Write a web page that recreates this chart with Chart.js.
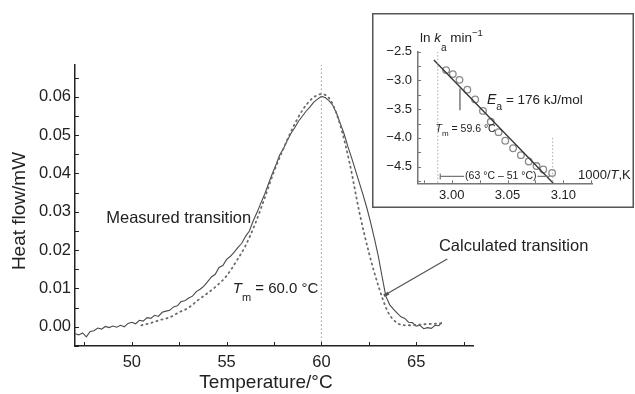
<!DOCTYPE html>
<html>
<head>
<meta charset="utf-8">
<script src="https://cdn.jsdelivr.net/npm/chart.js@4.4.1/dist/chart.umd.min.js"></script>
<style>
html, body { margin: 0; padding: 0; background: #fff; }
#wrap { position: relative; width: 635px; height: 394px; overflow: hidden; }
#main { position: absolute; left: 0; top: 0; }
#inset { position: absolute; left: 372px; top: 13px; background: #fff; }
</style>
</head>
<body>
<div id="wrap">
    <canvas id="main" width="635" height="394"></canvas>
    <canvas id="inset" width="262" height="195"></canvas>
</div>
<script>
const FONT = '"Liberation Sans", Arial, Helvetica, sans-serif';

// DSC trace, measured (noisy) - °C / mW
const measuredT = [47.0, 47.2, 47.4, 47.6, 47.8, 48.0, 48.2, 48.4, 48.6, 48.8, 49.0, 49.2, 49.4, 49.6, 49.8,
    50.0, 50.2, 50.4, 50.6, 50.8, 51.0, 51.2, 51.4, 51.6, 51.8, 52.0, 52.2, 52.4, 52.6, 52.8,
    53.0, 53.2, 53.4, 53.6, 53.8, 54.0, 54.2, 54.4, 54.6, 54.8, 55.0, 55.2, 55.4, 55.6, 55.8,
    56.0, 56.2, 56.4, 56.6, 56.8, 57.0, 57.2, 57.4, 57.6, 57.8, 58.0, 58.2, 58.4, 58.6, 58.8,
    59.0, 59.2, 59.4, 59.6, 59.8, 60.0, 60.2, 60.4, 60.6, 60.8, 61.0, 61.2, 61.4, 61.6, 61.8,
    62.0, 62.2, 62.4, 62.6, 62.8, 63.0, 63.2, 63.4, 63.6, 63.8, 64.0, 64.2, 64.4, 64.6, 64.8,
    65.0, 65.2, 65.4, 65.6, 65.8, 66.0, 66.2, 66.35];
const measuredH = [-0.0018, -0.0021, -0.0016, -0.0026, -0.0012, -0.0010, -0.0003, -0.0006, 0.0001, -0.0002,
    0.0002, -0.0001, 0.0004, 0.0000, 0.0009, 0.0012, 0.0008, 0.0017, 0.0015, 0.0024,
    0.0022, 0.0030, 0.0027, 0.0038, 0.0041, 0.0043, 0.0052, 0.0055, 0.0066, 0.0068,
    0.0075, 0.0080, 0.0092, 0.0098, 0.0106, 0.0118, 0.0130, 0.0137, 0.0155, 0.0160,
    0.0176, 0.0184, 0.0195, 0.0207, 0.0218, 0.0236, 0.0250, 0.0276, 0.0298, 0.0322,
    0.0345, 0.0372, 0.0398, 0.0422, 0.0448, 0.0465, 0.0486, 0.0505, 0.0520, 0.0537,
    0.0550, 0.0563, 0.0574, 0.0586, 0.0594, 0.0601, 0.0598, 0.0590, 0.0578, 0.0557,
    0.0530, 0.0503, 0.0470, 0.0440, 0.0408, 0.0376, 0.0344, 0.0310, 0.0272, 0.0230,
    0.0185, 0.0132, 0.0080, 0.0058, 0.0046, 0.0036, 0.0026, 0.0022, 0.0012, 0.0011,
    0.0002, 0.0004, -0.0005, -0.0002, -0.0004, 0.0004, 0.0003, 0.0012];

// calculated transition (dotted)
const calcT = [50.5, 51.0, 51.5, 52.0, 52.5, 53.0, 53.5, 54.0, 54.5, 55.0, 55.5, 56.0, 56.5, 57.0, 57.5,
    58.0, 58.5, 59.0, 59.5, 60.0, 60.5, 61.0, 61.5, 62.0, 62.5, 63.0, 63.5, 64.0, 64.5, 65.0, 65.5, 66.0, 66.5];
const calcH = [0.0004, 0.0010, 0.0018, 0.0025, 0.0038, 0.0050, 0.0070, 0.0088, 0.0108, 0.0133, 0.0170, 0.0212,
    0.0268, 0.0335, 0.0405, 0.0465, 0.0520, 0.0565, 0.0595, 0.0607, 0.0590, 0.0525, 0.0425, 0.0300,
    0.0195, 0.0108, 0.0040, 0.0010, 0.0004, 0.0005, 0.0007, 0.0008, 0.0010];

const tmMain = 60.0;
const xTicksMain = [50, 55, 60, 65];
const xMinorMain = [47.5, 52.5, 57.5, 62.5, 67.5];
const yTicksMain = [0, 0.01, 0.02, 0.03, 0.04, 0.05, 0.06];
const yMinorMain = [-0.005, 0.005, 0.015, 0.025, 0.035, 0.045, 0.055, 0.065];

// Arrhenius inset: 1000/T,K vs ln ka
const arrX = [2.995, 3.001, 3.007, 3.014, 3.021, 3.028, 3.035, 3.042, 3.048, 3.055, 3.062, 3.069, 3.076, 3.082, 3.090];
const arrY = [-2.82, -2.89, -2.99, -3.16, -3.33, -3.53, -3.72, -3.90, -4.05, -4.18, -4.30, -4.41, -4.49, -4.55, -4.61];
const fitX = [2.984, 3.091];
const fitY = [-2.645, -4.79];
const rangeX = [2.9875, 3.0905];   // 63 °C .. 51 °C
const tmInsetX = 3.0074;
const xTicksInset = [3.00, 3.05, 3.10];
const xMinorInset = [2.975, 3.025, 3.075, 3.125];
const yTicksInset = [-2.5, -3.0, -3.5, -4.0, -4.5];
const yMinorInset = [-2.75, -3.25, -3.75, -4.25, -4.75];

const pts = (xs, ys) => xs.map((x, i) => ({ x, y: ys[i] }));

function rich(ctx, x, y, parts, align) {
    let w = 0;
    parts.forEach((p) => { ctx.font = p[1]; w += ctx.measureText(p[0]).width; });
    let cx = align === 'right' ? x - w : x;
    parts.forEach((p) => { ctx.font = p[1]; ctx.fillText(p[0], cx, y + (p[2] || 0)); cx += ctx.measureText(p[0]).width; });
}

function inwardTicks(ctx, x, y, xs, ys, len) {
    xs.forEach((v) => {
        const px = Math.round(x.getPixelForValue(v)) + 0.5;
        ctx.beginPath(); ctx.moveTo(px, y.bottom); ctx.lineTo(px, y.bottom - len); ctx.stroke();
    });
    ys.forEach((v) => {
        const py = Math.round(y.getPixelForValue(v)) + 0.5;
        ctx.beginPath(); ctx.moveTo(x.left, py); ctx.lineTo(x.left + len, py); ctx.stroke();
    });
}

const mainDecor = {
    id: 'mainDecor',
    afterDraw(chart) {
        const { ctx, scales: { x, y } } = chart;
        ctx.save();
        ctx.strokeStyle = '#222';
        ctx.lineWidth = 1;
        inwardTicks(ctx, x, y, [...xTicksMain, ...xMinorMain], [...yTicksMain, ...yMinorMain], 4);

        ctx.fillStyle = '#222';
        ctx.textBaseline = 'middle';
        // axis titles
        ctx.font = `19px ${FONT}`;
        ctx.textAlign = 'center';
        ctx.fillText('Temperature/°C', 266, 383);
        ctx.save();
        ctx.translate(20, 211);
        ctx.rotate(-Math.PI / 2);
        ctx.fillText('Heat flow/mW', 0, 0);
        ctx.restore();

        ctx.textAlign = 'left';
        ctx.font = `16.5px ${FONT}`;
        ctx.fillText('Measured transition', x.getPixelForValue(48.65), y.getPixelForValue(0.0283));
        ctx.fillText('Calculated transition', x.getPixelForValue(66.2), y.getPixelForValue(0.0210));

        // leader to calculated curve
        ctx.strokeStyle = '#555';
        ctx.lineWidth = 1.3;
        ctx.beginPath();
        ctx.moveTo(x.getPixelForValue(63.35), y.getPixelForValue(0.0083));
        ctx.lineTo(x.getPixelForValue(66.64), y.getPixelForValue(0.0177));
        ctx.stroke();
        ctx.lineWidth = 3;
        ctx.beginPath();
        ctx.moveTo(x.getPixelForValue(63.3), y.getPixelForValue(0.0081));
        ctx.lineTo(x.getPixelForValue(63.55), y.getPixelForValue(0.0088));
        ctx.stroke();

        // Tm label
        const tx = x.getPixelForValue(tmMain) - 3;
        const ty = y.getPixelForValue(0.0100);
        rich(ctx, tx, ty, [
            ['T', `italic 15px ${FONT}`, 0],
            ['m', `11px ${FONT}`, 9],
            [' = 60.0 °C', `15px ${FONT}`, 0],
        ], 'right');
        ctx.restore();
    },
};

new Chart(document.getElementById('main'), {
    type: 'scatter',
    data: {
        datasets: [
            { data: pts([tmMain, tmMain], [-0.005, 0.0683]), showLine: true, borderColor: '#9a9a9a', borderWidth: 1, borderDash: [1.5, 2.5], pointRadius: 0 },
            { data: pts(calcT, calcH), showLine: true, borderColor: '#6a6a6a', borderWidth: 1.8, borderDash: [1.2, 4], borderCapStyle: 'round', pointRadius: 0, cubicInterpolationMode: 'monotone' },
            { data: pts(measuredT, measuredH), showLine: true, borderColor: '#4a4a4a', borderWidth: 1.1, pointRadius: 0, tension: 0 },
        ],
    },
    options: {
        responsive: false, animation: false, devicePixelRatio: 1,
        layout: { padding: { top: 65, right: 162, left: 0, bottom: 0 } },
        plugins: { legend: { display: false }, tooltip: { enabled: false } },
        scales: {
            x: {
                type: 'linear', min: 47, max: 68,
                afterFit: (s) => { s.height = 48; },
                afterBuildTicks: (s) => { s.ticks = xTicksMain.map((v) => ({ value: v })); },
                grid: { display: false, drawTicks: false },
                border: { display: true, color: '#222', width: 1.5 },
                ticks: { padding: 7, color: '#222', maxRotation: 0, font: { family: FONT, size: 16.5 }, callback: (v) => String(v) },
            },
            y: {
                type: 'linear', min: -0.005, max: 0.0683,
                afterFit: (s) => { s.width = 75; },
                afterBuildTicks: (s) => { s.ticks = yTicksMain.map((v) => ({ value: v })); },
                grid: { display: false, drawTicks: false },
                border: { display: true, color: '#222', width: 1.5 },
                ticks: { padding: 4, color: '#222', font: { family: FONT, size: 16.5 }, callback: (v) => v.toFixed(2) },
            },
        },
    },
    plugins: [mainDecor],
});

const insetDecor = {
    id: 'insetDecor',
    afterDraw(chart) {
        const { ctx, width, height, scales: { x, y } } = chart;
        ctx.save();
        ctx.strokeStyle = '#555';
        ctx.lineWidth = 1.5;
        ctx.strokeRect(0.75, 0.75, width - 1.5, height - 1.5);

        ctx.strokeStyle = '#777';
        ctx.lineWidth = 1;
        inwardTicks(ctx, x, y, [...xTicksInset, ...xMinorInset], [...yTicksInset, ...yMinorInset], 3);

        ctx.fillStyle = '#222';
        ctx.textBaseline = 'middle';
        ctx.textAlign = 'left';
        // y title
        rich(ctx, 48, 25, [
            ['ln ', `13.5px ${FONT}`, 0],
            ['k', `italic 13.5px ${FONT}`, 0],
            ['a', `10px ${FONT}`, 10],
            [' min', `13.5px ${FONT}`, 0],
            ['−1', `9.5px ${FONT}`, -5],
        ]);
        // x title
        rich(ctx, 206, 162.5, [
            ['1000/', `13px ${FONT}`, 0],
            ['T', `italic 13px ${FONT}`, 0],
            [',K', `13px ${FONT}`, 0],
        ]);
        // Ea
        rich(ctx, 115, 87, [
            ['E', `italic 14px ${FONT}`, 0],
            ['a', `10.5px ${FONT}`, 7],
            [' = 176 kJ/mol', `13.5px ${FONT}`, 0],
        ]);
        // Tm in inset
        rich(ctx, 63.5, 116.5, [
            ['T', `italic 10.5px ${FONT}`, 0],
            ['m', `8px ${FONT}`, 4],
            [' = 59.6 °C', `10.5px ${FONT}`, 0],
        ]);

        // temperature range bar
        const ry = y.getPixelForValue(-4.67);
        const x0 = x.getPixelForValue(rangeX[0]) + 2;
        const x1 = x.getPixelForValue(rangeX[1]) - 3;
        ctx.font = `10.5px ${FONT}`;
        ctx.textAlign = 'center';
        const label = '(63 °C – 51 °C)';
        const cx = x.getPixelForValue(3.044);
        const hw = ctx.measureText(label).width / 2;
        ctx.fillText(label, cx, ry);
        ctx.strokeStyle = '#777';
        ctx.lineWidth = 1.2;
        ctx.beginPath();
        ctx.moveTo(x0, ry); ctx.lineTo(cx - hw - 1, ry);
        ctx.moveTo(cx + hw + 1, ry); ctx.lineTo(x1, ry);
        ctx.moveTo(x0 + 0.5, ry - 3); ctx.lineTo(x0 + 0.5, ry + 3);
        ctx.stroke();
        ctx.restore();
    },
};

new Chart(document.getElementById('inset'), {
    type: 'scatter',
    data: {
        datasets: [
            { data: pts([rangeX[0], rangeX[0]], [-2.5, -4.79]), showLine: true, borderColor: '#aaa', borderWidth: 1, borderDash: [1.5, 2], pointRadius: 0 },
            { data: pts([rangeX[1], rangeX[1]], [-4.0, -4.79]), showLine: true, borderColor: '#aaa', borderWidth: 1, borderDash: [1.5, 2], pointRadius: 0 },
            { data: pts([tmInsetX, tmInsetX], [-3.14, -3.52]), showLine: true, borderColor: '#555', borderWidth: 1.2, pointRadius: 0 },
            { data: pts(fitX, fitY), showLine: true, borderColor: '#333', borderWidth: 1.3, pointRadius: 0 },
            { data: pts(arrX, arrY), showLine: false, pointRadius: 3.3, pointBorderWidth: 1.3, pointBorderColor: '#8a8a8a', pointBackgroundColor: 'rgba(255,255,255,0)' },
        ],
    },
    options: {
        responsive: false, animation: false, devicePixelRatio: 1,
        layout: { padding: { top: 38.7, right: 42, left: 0, bottom: 0 } },
        plugins: { legend: { display: false }, tooltip: { enabled: false } },
        scales: {
            x: {
                type: 'linear', min: 2.9698, max: 3.1257,
                afterFit: (s) => { s.height = 24.7; },
                afterBuildTicks: (s) => { s.ticks = xTicksInset.map((v) => ({ value: v })); },
                grid: { display: false, drawTicks: false },
                border: { display: true, color: '#777', width: 1.5 },
                ticks: { padding: 4, color: '#222', maxRotation: 0, font: { family: FONT, size: 13 }, callback: (v) => v.toFixed(2) },
            },
            y: {
                type: 'linear', min: -4.79, max: -2.5,
                afterFit: (s) => { s.width = 46; },
                afterBuildTicks: (s) => { s.ticks = yTicksInset.map((v) => ({ value: v })); },
                grid: { display: false, drawTicks: false },
                border: { display: true, color: '#777', width: 1.5 },
                ticks: { padding: 6, color: '#222', font: { family: FONT, size: 13 }, callback: (v) => v.toFixed(1).replace('-', '−') },
            },
        },
    },
    plugins: [insetDecor],
});
</script>
</body>
</html>
